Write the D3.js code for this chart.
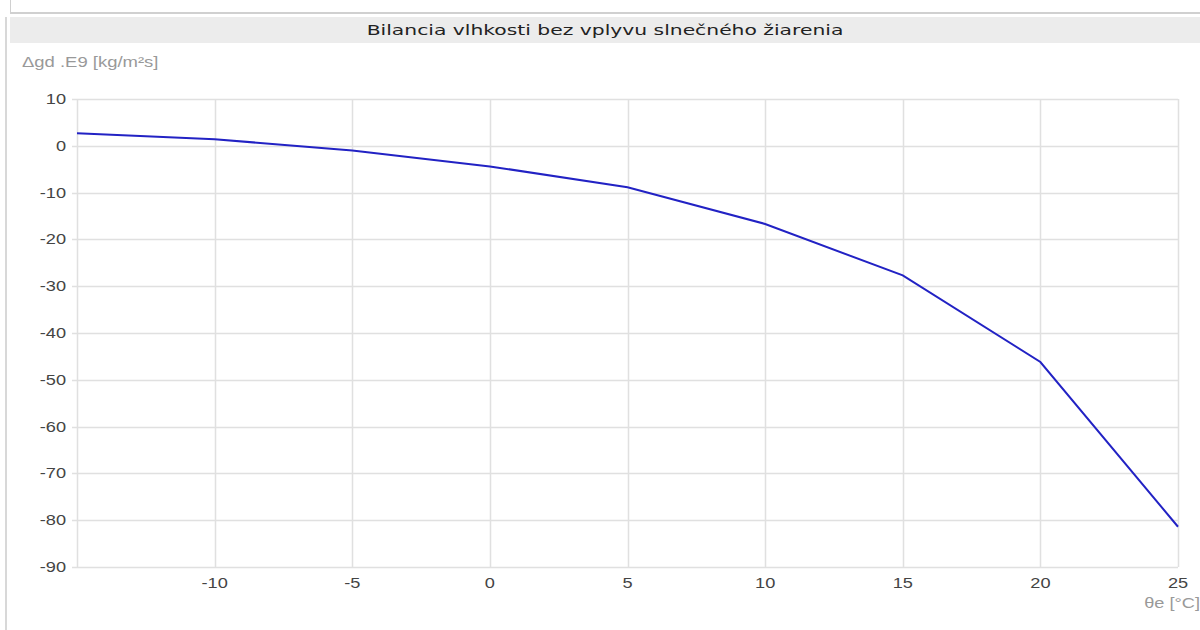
<!DOCTYPE html>
<html><head><meta charset="utf-8">
<script src="https://cdn.jsdelivr.net/npm/d3@7"></script>
<style>html,body{margin:0;padding:0;background:#fff;}svg{display:block;}</style>
</head><body>
<svg id="c" width="1200" height="630"></svg>
<script>
const title = "Bilancia vlhkosti bez vplyvu slnečného žiarenia";
const yLabel = "Δgd .E9 [kg/m²s]";
const xLabel = "θe [°C]";
const temps = [-15, -10, -5, 0, 5, 10, 15, 20, 25];
const balance = [2.7, 1.4, -1.0, -4.4, -8.85, -16.7, -27.7, -46.2, -81.4];
const xTicks = [-10, -5, 0, 5, 10, 15, 20, 25];
const yTicks = [10, 0, -10, -20, -30, -40, -50, -60, -70, -80, -90];

const SX = 1.3; // horizontal stretch of text seen in the reference
const svg = d3.select("#c");
// frame decorations
svg.append("line").attr("x1",10.5).attr("x2",10.5).attr("y1",0).attr("y2",13).attr("stroke","#d0d0d0");
svg.append("line").attr("x1",10).attr("x2",1200).attr("y1",13).attr("y2",13).attr("stroke","#d0d0d0").attr("stroke-width",2);
svg.append("line").attr("x1",6).attr("x2",6).attr("y1",17).attr("y2",630).attr("stroke","#d8d8d8").attr("stroke-width",2);
svg.append("rect").attr("x",10).attr("y",17).attr("width",1190).attr("height",26).attr("fill","#ececec");
svg.append("text").attr("transform","translate(605,35) scale(1.4,1)").attr("text-anchor","middle")
  .attr("font-family","DejaVu Sans, Verdana, sans-serif").attr("font-size",14.5).attr("fill","#222").text(title);

const x = d3.scaleLinear().domain([-15,25]).range([77,1178]);
const y = d3.scaleLinear().domain([-90,10]).range([567,99]);

const g = svg.append("g");
// grid
g.selectAll("line.h").data(yTicks).join("line").attr("class","h")
  .attr("x1",72).attr("x2",1178).attr("y1",d=>Math.round(y(d))+0.5).attr("y2",d=>Math.round(y(d))+0.5)
  .attr("stroke","#e0e0e0").attr("stroke-width",1.5);
g.selectAll("line.v").data([-15].concat(xTicks)).join("line").attr("class","v")
  .attr("x1",d=>Math.round(x(d))+0.5).attr("x2",d=>Math.round(x(d))+0.5).attr("y1",99).attr("y2",567)
  .attr("stroke","#e0e0e0").attr("stroke-width",1.5);

// tick labels
g.selectAll("text.yt").data(yTicks).join("text").attr("class","yt")
  .attr("transform",d=>`translate(66,${y(d)+5}) scale(${SX},1)`).attr("text-anchor","end")
  .attr("font-family","Liberation Sans, Arial, sans-serif").attr("font-size",14).attr("fill","#444").text(d=>d);
g.selectAll("text.xt").data(xTicks).join("text").attr("class","xt")
  .attr("transform",d=>`translate(${x(d)},588) scale(${SX},1)`).attr("text-anchor","middle")
  .attr("font-family","Liberation Sans, Arial, sans-serif").attr("font-size",14).attr("fill","#444").text(d=>d);

svg.append("text").attr("transform",`translate(22,67) scale(1.32,1)`).attr("font-family","Liberation Sans, Arial, sans-serif")
  .attr("font-size",14).attr("fill","#999").text(yLabel);
svg.append("text").attr("transform",`translate(1200,608) scale(${SX},1)`).attr("text-anchor","end").attr("font-family","Liberation Sans, Arial, sans-serif")
  .attr("font-size",14).attr("fill","#999").text(xLabel);

const line = d3.line().x((d,i)=>x(temps[i])).y(d=>y(d));
svg.append("path").datum(balance).attr("d",line).attr("fill","none").attr("stroke","#2222c4").attr("stroke-width",2);
</script>
</body></html>
